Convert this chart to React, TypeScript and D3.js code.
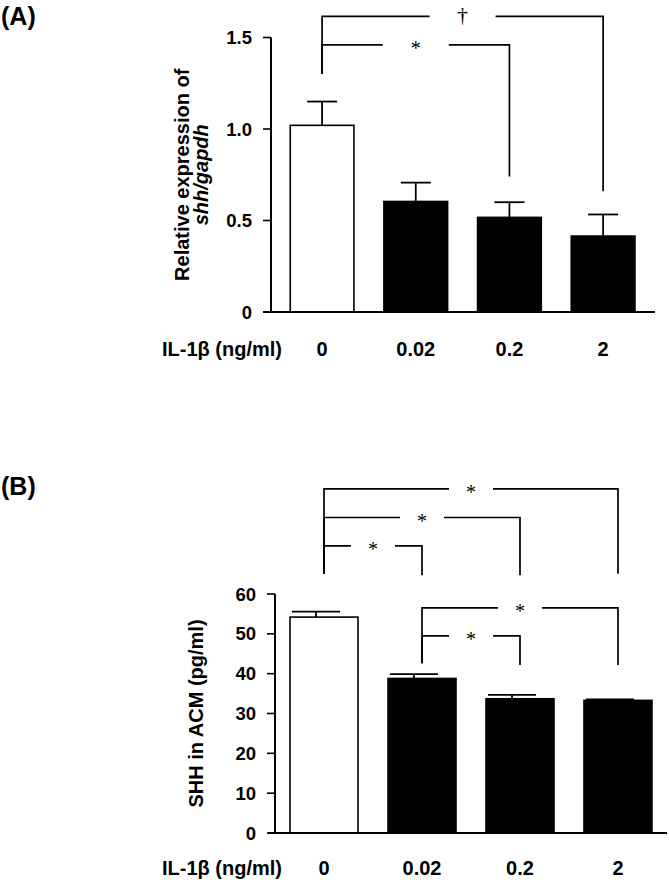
import React from "react";
import * as d3 from "d3";

const categories = ["0", "0.02", "0.2", "2"];
const fills = ["white", "black", "black", "black"];

const meanA = [1.02, 0.604, 0.517, 0.415];
const errA = [0.13, 0.103, 0.083, 0.118];
const ticksA = [0, 0.5, 1.0, 1.5];
const tickLabelsA = ["0", "0.5", "1.0", "1.5"];

const meanB = [54.2, 38.8, 33.7, 33.3];
const errB = [1.4, 1.1, 1.0, 0.25];
const ticksB = [0, 10, 20, 30, 40, 50, 60];
const tickLabelsB = ["0", "10", "20", "30", "40", "50", "60"];

// significance brackets: [from, to, level, leftEnd, rightEnd, label]
const sigA: [number, number, number, number, number, string][] = [
  [0, 3, 1.615, 1.3, 0.66, "†"],
  [0, 2, 1.46, 1.3, 0.74, "*"],
];
const sigB: [number, number, number, number, number, string][] = [
  [0, 3, 86.4, 65.1, 65.1, "*"],
  [0, 2, 79.2, 65.1, 64.7, "*"],
  [0, 1, 72.1, 65.1, 64.7, "*"],
  [1, 3, 56.5, 42.6, 42.2, "*"],
  [1, 2, 49.5, 42.6, 42.2, "*"],
];

const FONT = "'Liberation Sans', Arial, Helvetica, sans-serif";
const SERIF = "'Liberation Serif', 'Times New Roman', serif";

type PanelProps = {
  letter: string;
  letterY: number;
  mean: number[];
  err: number[];
  ticks: number[];
  tickLabels: string[];
  domainMax: number;
  yRange: [number, number];
  xRange: [number, number];
  padOuter: number;
  padInner: number;
  yAxisX: number;
  xAxisExt: [number, number];
  tickLabelX: number;
  capHalf: number;
  capShift: number;
  catY: number;
  titleLines: React.ReactNode[];
  titleXs: number[];
  sig: [number, number, number, number, number, string][];
  gap: number;
  sigLabelSize: number;
};

function Panel(p: PanelProps) {
  const y = d3.scaleLinear().domain([0, p.domainMax]).range(p.yRange);
  const x = d3
    .scaleBand<string>()
    .domain(categories)
    .range(p.xRange)
    .paddingInner(p.padInner)
    .paddingOuter(p.padOuter);
  const bw = x.bandwidth();
  const cx = (i: number) => (x(categories[i]) as number) + bw / 2;
  const y0 = y(0);
  const titleMid = (p.yRange[0] + p.yRange[1]) / 2;
  return (
    <g>
      <text x={1} y={p.letterY} fontFamily={FONT} fontWeight="bold" fontSize={25}>
        {p.letter}
      </text>
      {/* bars */}
      {p.mean.map((m, i) => {
        const ex = cx(i) + p.capShift;
        return (
          <g key={i}>
            <line x1={ex} x2={ex} y1={y(m)} y2={y(m + p.err[i])} stroke="black" strokeWidth={1.8} />
            <line
              x1={ex - p.capHalf}
              x2={ex + p.capHalf}
              y1={y(m + p.err[i])}
              y2={y(m + p.err[i])}
              stroke="black"
              strokeWidth={1.8}
            />
            <rect
              x={x(categories[i])}
              y={y(m)}
              width={bw}
              height={y0 - y(m)}
              fill={fills[i]}
              stroke="black"
              strokeWidth={1.6}
            />
          </g>
        );
      })}
      {/* axes */}
      <line x1={p.yAxisX} x2={p.yAxisX} y1={y(p.domainMax)} y2={y0} stroke="black" strokeWidth={2} />
      <line x1={p.xAxisExt[0]} x2={p.xAxisExt[1]} y1={y0} y2={y0} stroke="black" strokeWidth={2} />
      {p.ticks.map((t, i) => (
        <g key={i}>
          <line x1={p.yAxisX - 8} x2={p.yAxisX} y1={y(t)} y2={y(t)} stroke="black" strokeWidth={1.6} />
          <text
            x={p.tickLabelX}
            y={y(t)}
            dy="0.36em"
            textAnchor="end"
            fontFamily={FONT}
            fontWeight="bold"
            fontSize={18.5}
          >
            {p.tickLabels[i]}
          </text>
        </g>
      ))}
      {/* axis title */}
      {p.titleLines.map((ln, i) => (
        <text
          key={i}
          transform={`translate(${p.titleXs[i]},${titleMid}) rotate(-90)`}
          textAnchor="middle"
          fontFamily={FONT}
          fontWeight="bold"
          fontSize={20}
        >
          {ln}
        </text>
      ))}
      {/* category labels */}
      <text x={162} y={p.catY} fontFamily={FONT} fontWeight="bold" fontSize={20}>
        IL-1β (ng/ml)
      </text>
      {categories.map((c, i) => (
        <text
          key={c}
          x={cx(i)}
          y={p.catY}
          textAnchor="middle"
          fontFamily={FONT}
          fontWeight="bold"
          fontSize={20}
        >
          {c}
        </text>
      ))}
      {/* significance brackets */}
      {p.sig.map(([a, b, lvl, le, re, lab], i) => {
        const xa = cx(a);
        const xb = cx(b);
        const ly = y(lvl);
        const mid = (xa + xb) / 2;
        const g = p.gap / 2;
        const isStar = lab === "*";
        return (
          <g key={i} fill="none" stroke="black" strokeWidth={1.7}>
            <path d={`M${xa},${y(le)}V${ly}H${mid - g}`} />
            <path d={`M${mid + g},${ly}H${xb}V${y(re)}`} />
            <text
              x={mid}
              y={ly}
              dy={isStar ? "0.52em" : "0.27em"}
              textAnchor="middle"
              fontFamily={SERIF}
              fontSize={isStar ? p.sigLabelSize : p.sigLabelSize + 2}
              fill="black"
              stroke="none"
            >
              {lab}
            </text>
          </g>
        );
      })}
    </g>
  );
}

export default function App() {
  return (
    <svg
      width={669}
      height={880}
      style={{ position: "absolute", left: 0, top: 0, background: "white" }}
    >
      <rect width={669} height={880} fill="white" />
      <Panel
        letter="(A)"
        letterY={25}
        mean={meanA}
        err={errA}
        ticks={ticksA}
        tickLabels={tickLabelsA}
        domainMax={1.5}
        yRange={[312, 37.5]}
        xRange={[271.5, 653.7]}
        padInner={0.32}
        padOuter={0.2}
        yAxisX={271}
        xAxisExt={[263, 655]}
        tickLabelX={252}
        capHalf={15}
        capShift={0}
        catY={356}
        titleLines={[
          "Relative expression of",
          <tspan key="i" fontStyle="italic">
            shh/gapdh
          </tspan>,
        ]}
        titleXs={[189, 208]}
        sig={sigA}
        gap={66}
        sigLabelSize={20}
      />
      <Panel
        letter="(B)"
        letterY={495}
        mean={meanB}
        err={errB}
        ticks={ticksB}
        tickLabels={tickLabelsB}
        domainMax={60}
        yRange={[833, 594]}
        xRange={[275.3, 666.7]}
        padInner={0.306}
        padOuter={0.15}
        yAxisX={275}
        xAxisExt={[268, 667]}
        tickLabelX={256}
        capHalf={24}
        capShift={-8}
        catY={875}
        titleLines={["SHH in ACM (pg/ml)"]}
        titleXs={[203]}
        sig={sigB}
        gap={44}
        sigLabelSize={20}
      />
    </svg>
  );
}
